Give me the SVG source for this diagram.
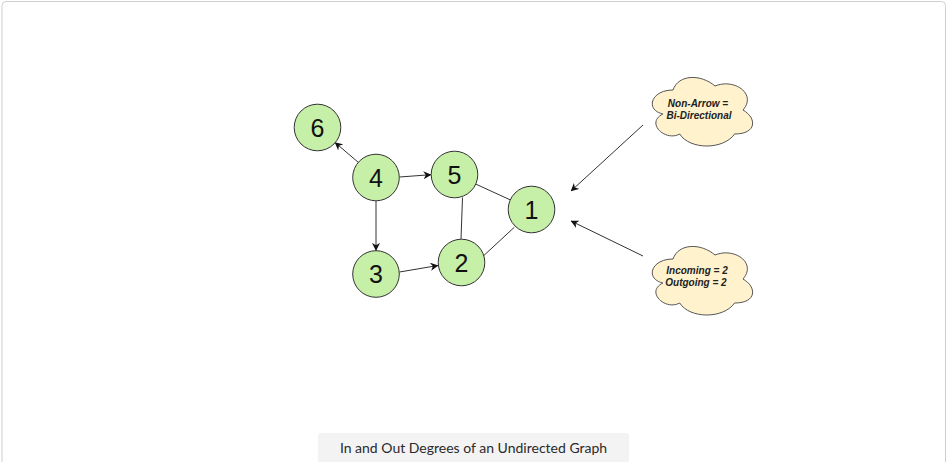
<svg xmlns="http://www.w3.org/2000/svg" width="947" height="462" viewBox="0 0 947 462">
<style>
.node circle{fill:#c6efa8;stroke:#333;stroke-width:1}
.node text{font-family:"Liberation Sans",Arial,sans-serif;font-size:25px;fill:#111;text-anchor:middle}
.edge{stroke:#333;stroke-width:1;fill:none}
.arr{marker-end:url(#ah)}
.cloud text{font-family:"Liberation Sans",Arial,sans-serif;font-size:10px;font-style:italic;font-weight:bold;fill:#222;text-anchor:middle}
.cap{font-family:Lato,"Open Sans",sans-serif;font-size:14px;fill:#2a2a2a;text-anchor:middle}
</style>
<defs>
<marker id="ah" viewBox="0 0 10 10" refX="9.5" refY="5" markerWidth="8" markerHeight="8" markerUnits="userSpaceOnUse" orient="auto">
<path d="M0,0 L10,5 L0,10 L3,5 Z" fill="#111"/>
</marker>
<path id="cl" d="M28,20 C5.6,20 0,40 17.9,44 C0,52.8 20.2,72 34.7,64 C44.8,80 78.4,80 89.6,64 C112,64 112,48 98,40 C112,24 89.6,8 70,16 C56,4 33.6,4 28,20 Z"/>
</defs>
<rect x="2" y="1.5" width="943.5" height="500" rx="4" fill="#fff" stroke="#cfcfcf" stroke-width="1"/>
<g id="connectors">
<line class="edge arr" x1="358.5" y1="162.5" x2="335" y2="142.5"/>
<line class="edge arr" x1="399.5" y1="177" x2="431" y2="174.7"/>
<line class="edge arr" x1="376" y1="201" x2="376" y2="250.5"/>
<line class="edge arr" x1="399.5" y1="272" x2="438" y2="265.5"/>
<line class="edge" x1="476" y1="184.2" x2="510.1" y2="199.8"/>
<line class="edge" x1="462.5" y1="197.5" x2="461" y2="239"/>
<line class="edge" x1="483.3" y1="256" x2="514.3" y2="227.3"/>
<line class="edge arr" x1="643" y1="125" x2="571" y2="191"/>
<line class="edge arr" x1="643" y1="256" x2="571" y2="221"/>
</g>
<g id="n6" class="node"><circle cx="317.5" cy="127.5" r="23.3"/><text x="317.5" y="136.5">6</text></g>
<g id="n4" class="node"><circle cx="376" cy="177.5" r="23.3"/><text x="376" y="186.5">4</text></g>
<g id="n5" class="node"><circle cx="454.5" cy="174.5" r="23.3"/><text x="454.5" y="183.5">5</text></g>
<g id="n1" class="node"><circle cx="531.5" cy="209.5" r="23.3"/><text x="531.5" y="218.5">1</text></g>
<g id="n2" class="node"><circle cx="461.5" cy="262.5" r="23.3"/><text x="461.5" y="271.5">2</text></g>
<g id="n3" class="node"><circle cx="376" cy="274" r="23.3"/><text x="376" y="283">3</text></g>
<g id="cloud1" class="cloud"><use href="#cl" transform="translate(645,70)" fill="#fff2cc" stroke="#555"/><text x="698" y="107">Non-Arrow =</text><text x="699" y="119">Bi-Directional</text></g>
<g id="cloud2" class="cloud"><use href="#cl" transform="translate(645,239)" fill="#fff2cc" stroke="#555"/><text x="697" y="274">Incoming = 2</text><text x="696" y="286">Outgoing = 2</text></g>
<g id="caption"><rect x="318" y="433" width="311" height="40" rx="3" fill="#f3f3f3"/><text class="cap" x="473.5" y="453">In and Out Degrees of an Undirected Graph</text></g>
</svg>
